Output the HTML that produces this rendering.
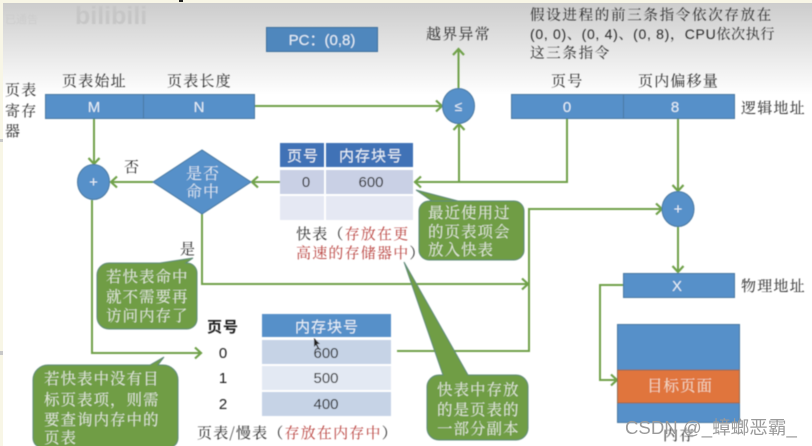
<!DOCTYPE html>
<html><head><meta charset="utf-8"><style>
html,body{margin:0;padding:0;background:#fff}
svg{display:block}
text{font-family:"Liberation Sans","Noto Serif CJK SC",serif}
.s{font-family:"Noto Serif CJK SC",serif;fill:#2b2b2b;font-size:15px;letter-spacing:1.2px}
.w{font-family:"Noto Serif CJK SC",serif;fill:#e4eadc;font-size:15.5px;letter-spacing:1px}
.l{font-family:"Liberation Sans",sans-serif;fill:#e8f0f8;font-size:15px;text-anchor:middle}
.d{font-family:"Liberation Sans",sans-serif;fill:#1a1a1a;font-size:15px;text-anchor:middle}
.h{font-family:"Noto Sans CJK SC",sans-serif;font-size:15px;letter-spacing:1px}
.r{fill:#b8403c}
.g{fill:none;stroke:#70a14a;stroke-width:2}
.b{fill:#5690c9;stroke:#4a78a0;stroke-width:1}
.c{fill:#6f9d45;stroke:#5f8a78;stroke-width:1}
</style></head><body>
<svg width="812" height="446" viewBox="0 0 812 446" xmlns="http://www.w3.org/2000/svg">
<defs>
<linearGradient id="bg" x1="0" y1="0" x2="0" y2="1"><stop offset="0" stop-color="#cccccc"/><stop offset="1" stop-color="#ffffff"/></linearGradient>
<marker id="a" markerUnits="userSpaceOnUse" markerWidth="14" markerHeight="14" refX="10" refY="7" orient="auto"><path d="M4 1.5L10 7L4 12.5" fill="none" stroke="#70a14a" stroke-width="2.2"/></marker>
<filter id="f" x="0" y="0" width="100%" height="100%"><feGaussianBlur stdDeviation="0.5"/></filter>
</defs>
<rect width="812" height="446" fill="#fff"/>
<rect x="3" y="3" width="809" height="92" fill="url(#bg)"/>
<rect width="812" height="3" fill="#f8f6e6"/>
<rect width="3" height="446" fill="#f8f6e6"/>
<rect y="139" width="3" height="3" fill="#c8c8c8"/>
<rect y="351" width="3" height="4" fill="#c8c8c8"/>
<rect x="179" y="0" width="4" height="2" fill="#222"/>
<g filter="url(#f)">
<text x="75" y="24" font-size="25" font-weight="bold" fill="#c6c6c6">bilibili</text>
<text x="5" y="23" style="font-family:'Noto Sans CJK SC',sans-serif;font-size:11px" fill="#cccccc">已通告</text>

<!-- connectors -->
<path class="g" d="M254 106H442" marker-end="url(#a)"/>
<path class="g" d="M458.500 88V49" marker-end="url(#a)"/>
<path class="g" d="M459 182V124" marker-end="url(#a)"/>
<path class="g" d="M567 118V182H415" marker-end="url(#a)"/>
<path class="g" d="M678 118V191" marker-end="url(#a)"/>
<path class="g" d="M678 227V272" marker-end="url(#a)"/>
<path class="g" d="M623 285H600V380H617" marker-end="url(#a)"/>
<path class="g" d="M397 351H529V209H662" marker-end="url(#a)"/>
<path class="g" d="M94 118V164" marker-end="url(#a)"/>
<path class="g" d="M280 182H252" marker-end="url(#a)"/>
<path class="g" d="M153 182H111" marker-end="url(#a)"/>
<path class="g" d="M202 214V284H528" marker-end="url(#a)"/>
<path class="g" d="M92 200V353H201" marker-end="url(#a)"/>

<!-- PC -->
<rect x="266.500" y="27.500" width="111" height="24" fill="#4f87bd" stroke="#41709c"/>
<text class="l" x="322" y="45" style="font-size:15px">PC：(0,8)</text>
<text class="s" x="426" y="39">越界异常</text>

<!-- register -->
<rect class="b" x="45.500" y="94.500" width="98" height="24"/>
<rect class="b" x="143.500" y="94.500" width="111" height="24"/>
<text class="l" x="94" y="112">M</text>
<text class="l" x="199" y="112">N</text>
<text class="s" x="62" y="86">页表始址</text>
<text class="s" x="167" y="86">页表长度</text>
<text class="s" x="5" y="95">页表</text>
<text class="s" x="5" y="116">寄存</text>
<text class="s" x="5" y="136">器</text>

<!-- compare -->
<ellipse class="b" cx="458.500" cy="106" rx="16" ry="17.500"/>
<text class="l" x="458.500" y="111" style="font-size:14px">≤</text>

<!-- logical -->
<rect class="b" x="511.500" y="94.500" width="112" height="24"/>
<rect class="b" x="623.500" y="94.500" width="111" height="24"/>
<text class="l" x="567" y="112">0</text>
<text class="l" x="675" y="112">8</text>
<text class="s" x="551" y="86">页号</text>
<text class="s" x="638" y="86">页内偏移量</text>
<text class="s" x="741" y="113">逻辑地址</text>
<text class="s" x="530" y="20" style="font-size:14.500px;letter-spacing:1.700px">假设进程的前三条指令依次存放在</text>
<text class="s" x="530" y="39" style="font-family:'Liberation Sans','Noto Serif CJK SC',serif;font-size:14px;letter-spacing:.7px">(0, 0)、(0, 4)、(0, 8)，CPU依次执行</text>
<text class="s" x="530" y="58" style="font-size:14.500px;letter-spacing:1.700px">这三条指令</text>

<!-- plus right -->
<ellipse class="b" cx="678" cy="209" rx="16" ry="17.500"/>
<text class="l" x="678" y="214">+</text>
<rect class="b" x="623.500" y="273.500" width="111" height="24"/>
<text class="l" x="677" y="291">X</text>
<text class="s" x="741" y="291">物理地址</text>

<!-- plus left -->
<ellipse class="b" cx="93.500" cy="182" rx="16" ry="17.500"/>
<text class="l" x="93.500" y="187">+</text>
<text class="s" x="124" y="172">否</text>
<text class="s" x="180" y="254">是</text>

<!-- diamond -->
<polygon points="153,182 202,150 251,182 202,214" fill="#5690c9" stroke="#4a78a0"/>
<text class="w" x="186" y="179" style="fill:#dbe7f3;font-size:16px">是否</text>
<text class="w" x="186" y="197" style="fill:#dbe7f3;font-size:16px">命中</text>

<!-- TLB -->
<rect x="280" y="143" width="44" height="24" fill="#3f72b6"/>
<rect x="326" y="143" width="87" height="24" fill="#3f72b6"/>
<rect x="280" y="170" width="44" height="24" fill="#c9d0e5"/>
<rect x="326" y="170" width="87" height="24" fill="#c9d0e5"/>
<rect x="280" y="196" width="44" height="24" fill="#e5e8f3"/>
<rect x="326" y="196" width="87" height="24" fill="#e5e8f3"/>
<text class="h" x="287" y="161" fill="#e8f0f8">页号</text>
<text class="h" x="339" y="161" fill="#e8f0f8">内存块号</text>
<text class="d" x="306" y="187">0</text>
<text class="d" x="371" y="187">600</text>
<text class="s" x="296" y="239">快表（<tspan class="r">存放在更</tspan></text>
<text class="s r" x="296" y="258">高速的存储器中<tspan style="fill:#2b2b2b">）</tspan></text>

<!-- page table -->
<rect x="262" y="314" width="129" height="23" fill="#5690c9"/>
<rect x="262" y="340" width="129" height="24" fill="#c6d3e6"/>
<rect x="262" y="366" width="129" height="24" fill="#e3e9f3"/>
<rect x="262" y="392" width="129" height="24" fill="#c6d3e6"/>
<text class="h" x="295" y="332" fill="#e8f0f8">内存块号</text>
<text class="h" x="207" y="332" font-weight="bold" fill="#1a1a1a">页号</text>
<text class="d" x="223" y="358">0</text>
<text class="d" x="223" y="383">1</text>
<text class="d" x="223" y="409">2</text>
<text class="d" x="326" y="358">600</text>
<text class="d" x="326" y="383">500</text>
<text class="d" x="326" y="409">400</text>
<text class="s" x="197" y="438">页表/慢表（<tspan class="r">存放在内存中</tspan>）</text>
<path d="M314 338l0 9 2-2 2 4 1-1-2-4 3 0z" fill="#222"/>

<!-- memory -->
<rect class="b" x="617.500" y="324.500" width="122" height="98"/>
<rect x="617.500" y="370" width="122" height="33" fill="#e0753c" stroke="#8a6a50"/>
<text class="w" x="647" y="391" style="fill:#f3dcc8">目标页面</text>
<text class="s" x="663" y="440">内存</text>

<!-- callouts -->
<path class="c" d="M432 201H458L416 190ZM429 201H514a10 10 0 0 1 10 10V250a10 10 0 0 1-10 10H429a10 10 0 0 1-10-10V211a10 10 0 0 1 10-10Z"/>
<text class="w" x="428" y="218">最近使用过</text>
<text class="w" x="428" y="237">的页表项会</text>
<text class="w" x="428" y="255">放入快表</text>

<path class="c" d="M109 263H160L193 258L186 263H187a10 10 0 0 1 10 10V319a10 10 0 0 1-10 10H109a12 12 0 0 1-12-12V275a12 12 0 0 1 12-12Z"/>
<text class="w" x="106" y="282">若快表命中</text>
<text class="w" x="106" y="302">就不需要再</text>
<text class="w" x="106" y="321">访问内存了</text>

<path class="c" d="M48 365H150L164 357L158 365H163a15 15 0 0 1 15 15V438a10 10 0 0 1-10 10H43a10 10 0 0 1-10-10V380a15 15 0 0 1 15-15Z"/>
<text class="w" x="44" y="384">若快表中没有目</text>
<text class="w" x="44" y="405">标页表项，则需</text>
<text class="w" x="44" y="425">要查询内存中的</text>
<text class="w" x="44" y="443">页表</text>

<path class="c" d="M404 262L468 375H516a12 12 0 0 1 12 12V428a12 12 0 0 1-12 12H439a12 12 0 0 1-12-12V387a12 12 0 0 1 12-12H443Z"/>
<text class="w" x="437" y="395">快表中存放</text>
<text class="w" x="437" y="415">的是页表的</text>
<text class="w" x="437" y="434">一部分副本</text>
</g>
<text x="625" y="434" style="font-family:'Liberation Sans','Noto Sans CJK SC',sans-serif;font-size:18.600px" fill="#9a9a9a">CSDN @_蟑螂恶霸_</text>
</svg>
</body></html>
